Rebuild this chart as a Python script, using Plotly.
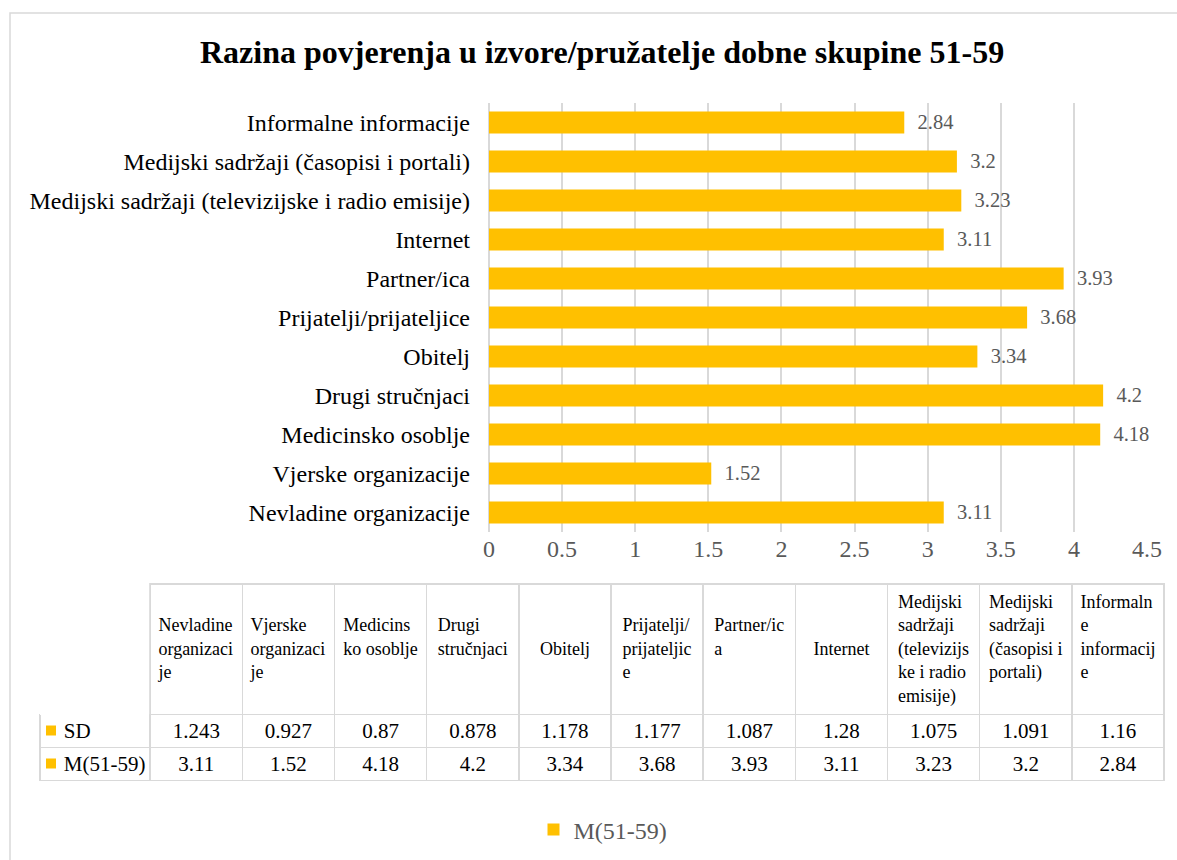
import plotly.graph_objects as go

W, H = 1177, 860

categories = [
    "Nevladine organizacije",
    "Vjerske organizacije",
    "Medicinsko osoblje",
    "Drugi stručnjaci",
    "Obitelj",
    "Prijatelji/prijateljice",
    "Partner/ica",
    "Internet",
    "Medijski sadržaji (televizijske i radio emisije)",
    "Medijski sadržaji (časopisi i portali)",
    "Informalne informacije",
]
table_headers = [
    "Nevladine<br>organizaci<br>je",
    "Vjerske<br>organizaci<br>je",
    "Medicins<br>ko osoblje",
    "Drugi<br>stručnjaci",
    "Obitelj",
    "Prijatelji/<br>prijateljic<br>e",
    "Partner/ic<br>a",
    "Internet",
    "Medijski<br>sadržaji<br>(televizijs<br>ke i radio<br>emisije)",
    "Medijski<br>sadržaji<br>(časopisi i<br>portali)",
    "Informaln<br>e<br>informacij<br>e",
]
sd_values = [1.243, 0.927, 0.87, 0.878, 1.178, 1.177, 1.087, 1.28, 1.075, 1.091, 1.16]
m_values = [3.11, 1.52, 4.18, 4.2, 3.34, 3.68, 3.93, 3.11, 3.23, 3.2, 2.84]
x_ticks = [0, 0.5, 1, 1.5, 2, 2.5, 3, 3.5, 4, 4.5]
series_name = "M(51-59)"
sd_name = "SD"
row_names = [sd_name, series_name]

GOLD = "#FFC000"
GRID = "#d9d9d9"
FONT = "Liberation Serif, Times New Roman, serif"
NB = "\u00a0"

TABLE_TOP = 584       # px
HEADER_RENDER_H = 130 # px (rendered header height)
ROW_H = 33            # px

def px_x(v):
    return v / W

def px_y(v):
    return 1 - v / H

fig = go.Figure()

fig.add_trace(go.Bar(
    x=m_values, y=categories, orientation="h",
    name=series_name,
    marker=dict(color=GOLD, line=dict(width=0)),
    width=0.57,
    text=[NB * 2 + str(v) for v in m_values],
    textposition="outside",
    textfont=dict(family=FONT, size=24, color="#595959"),
    cliponaxis=False,
    showlegend=True,
    hoverinfo="skip",
))

# vertical centering of header text by padding lines
max_lines = 5
def pad(label):
    n = label.count("<br>") + 1
    top = (max_lines - n) // 2
    bottom = max_lines - n - top
    return (NB + "<br>") * top + label + ("<br>" + NB) * bottom

table_header_vals = [""] + [pad(h) for h in table_headers]
first_col = [NB * 3 + name for name in row_names]
cell_cols = [first_col] + [[str(s), str(m)] for s, m in zip(sd_values, m_values)]

fig.add_trace(go.Table(
    domain=dict(x=[px_x(40), px_x(1164)], y=[px_y(830), px_y(TABLE_TOP)]),
    columnwidth=[110] + [92] * 11,
    header=dict(
        values=table_header_vals,
        align="center",
        height=120,
        fill=dict(color="white"),
        line=dict(color=["rgba(0,0,0,0)"] + [GRID] * 11, width=1.5),
        font=dict(family=FONT, size=18, color="black"),
    ),
    cells=dict(
        values=cell_cols,
        align=["left"] + ["center"] * 11,
        height=ROW_H,
        fill=dict(color="white"),
        line=dict(color=GRID, width=1.5),
        font=dict(family=FONT, size=21, color="black"),
    ),
))

# legend keys (gold squares) in front of the table row names
key_shapes = []
for i, _ in enumerate(row_names):
    cy = TABLE_TOP + HEADER_RENDER_H + ROW_H * i + ROW_H / 2
    key_shapes.append(dict(
        type="rect", xref="paper", yref="paper",
        x0=px_x(46), x1=px_x(56), y0=px_y(cy + 5), y1=px_y(cy - 5),
        fillcolor=GOLD, line=dict(width=0), layer="above",
    ))

fig.update_layout(
    width=W, height=H,
    margin=dict(l=0, r=0, t=0, b=0),
    paper_bgcolor="white",
    plot_bgcolor="white",
    font=dict(family=FONT),
    xaxis=dict(
        domain=[px_x(489), px_x(1147)],
        range=[0, 4.5],
        tickvals=x_ticks,
        ticktext=[str(t) for t in x_ticks],
        showgrid=True, gridcolor=GRID, gridwidth=1.5,
        zeroline=True, zerolinecolor=GRID, zerolinewidth=1.5,
        showline=False,
        ticks="",
        tickfont=dict(family=FONT, size=24, color="#595959"),
        anchor="y",
        automargin=False,
    ),
    yaxis=dict(
        domain=[px_y(532), px_y(103)],
        showgrid=False,
        ticks="",
        ticklen=0,
        tickfont=dict(family=FONT, size=24, color="black"),
        automargin=False,
        ticksuffix=NB * 3,
    ),
    legend=dict(
        orientation="h",
        x=px_x(603), xanchor="center",
        y=px_y(830), yanchor="middle",
        font=dict(family=FONT, size=24, color="#595959"),
        itemwidth=30,
        bgcolor="rgba(0,0,0,0)",
    ),
    annotations=[dict(
        text="<b>Razina povjerenja u izvore/pružatelje dobne skupine 51-59</b>",
        x=px_x(602), y=px_y(52), xref="paper", yref="paper",
        xanchor="center", yanchor="middle",
        showarrow=False,
        font=dict(family=FONT, size=32, color="black"),
    )],
    shapes=[dict(
        type="rect", xref="paper", yref="paper",
        x0=px_x(10), x1=px_x(1200), y0=px_y(13), y1=px_y(900),
        line=dict(color=GRID, width=1.5), fillcolor="rgba(0,0,0,0)",
        layer="below",
    )] + key_shapes,
)

fig.write_html(
    "out.html",
    config={"displayModeBar": False},
    post_script="document.body.style.margin='0';document.body.style.overflow='hidden';",
)
